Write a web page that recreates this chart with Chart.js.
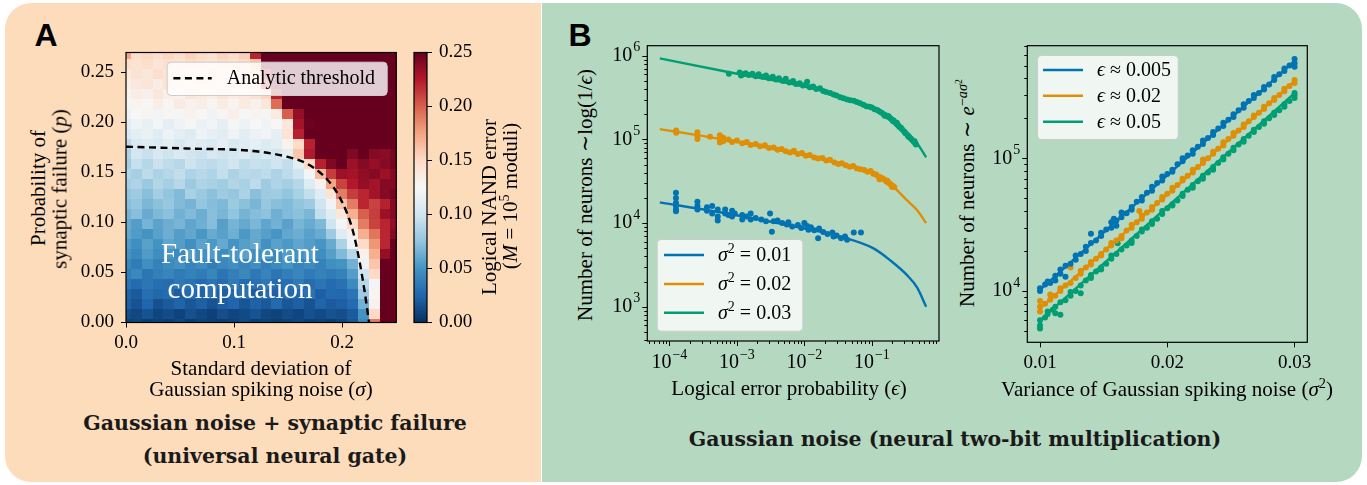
<!DOCTYPE html>
<html>
<head>
<meta charset="utf-8">
<title>Fault-tolerant neural computation</title>
<script src="https://cdn.jsdelivr.net/npm/chart.js@4.4.1/dist/chart.umd.min.js"></script>
<style>
  html, body { margin: 0; padding: 0; }
  body { width: 1367px; height: 485px; position: relative; overflow: hidden; background: #fff;
         font-family: "Liberation Serif", "DejaVu Serif", serif; color: #000; }
  .panel { position: absolute; top: 3px; height: 479px; }
  #panelA { left: 5px; width: 536px; background: #fddcbb; border-radius: 26px 0 0 26px; }
  #panelB { left: 542px; width: 820px; background: #b5d8c1; border-radius: 0 26px 26px 0; }
  canvas { position: absolute; }
  .t { position: absolute; white-space: nowrap; line-height: 1; font-size: 21px; transform: translate(-50%, -50%); }
  .t.rot { transform: translate(-50%, -50%) rotate(-90deg); }
  .tag { font-family: "Liberation Sans", Arial, sans-serif; font-weight: bold; font-size: 32px; }
  .ttl { font-family: "DejaVu Serif", serif; font-weight: bold; font-size: 20.5px; color: #1a1a1a; }
  .ft { color: #fff; font-size: 29px; }
  sup { font-size: 0.68em; vertical-align: 0.5em; line-height: 0; }
</style>
</head>
<body>
<div class="panel" id="panelA"></div>
<div class="panel" id="panelB"></div>

<canvas id="heat" width="345" height="330" style="left:60px;top:30px"></canvas>
<canvas id="cbar" width="95" height="330" style="left:405px;top:30px"></canvas>
<canvas id="byEps" width="350" height="360" style="left:600px;top:20px"></canvas>
<canvas id="byVar" width="345" height="360" style="left:980px;top:20px"></canvas>

<div class="t tag" style="left:46px;top:35px">A</div>
<div class="t tag" style="left:580px;top:35px">B</div>

<div class="t rot" style="left:38px;top:188px">Probability of</div>
<div class="t rot" style="left:60px;top:189px">synaptic failure (<i>p</i>)</div>
<div class="t" style="left:261px;top:368px">Standard deviation of</div>
<div class="t" style="left:261px;top:389px">Gaussian spiking noise (<i>σ</i>)</div>
<div class="t rot" style="left:489px;top:207px">Logical NAND error</div>
<div class="t rot" style="left:510px;top:196px">(<i>M</i> = 10<sup>5</sup> moduli)</div>
<div class="t ft" style="left:240px;top:253px">Fault-tolerant</div>
<div class="t ft" style="left:240px;top:288px">computation</div>
<div class="t ttl" style="left:275px;top:423px">Gaussian noise + synaptic failure</div>
<div class="t ttl" style="left:275px;top:456px">(universal neural gate)</div>

<div class="t rot" style="left:585px;top:195px">Number of neurons ∼log(1/<i>ϵ</i>)</div>
<div class="t" style="left:789px;top:388px">Logical error probability (<i>ϵ</i>)</div>
<div class="t rot" style="left:967px;top:193px">Number of neurons ∼ <i>e</i><sup>−<i>aσ</i><sup>2</sup></sup></div>
<div class="t" style="left:1167px;top:389px">Variance of Gaussian spiking noise (<i>σ</i><sup>2</sup>)</div>
<div class="t ttl" style="left:955px;top:439px">Gaussian noise (neural two-bit multiplication)</div>

<script>
// ---------- panel A : heat map ----------
// cell centres (imshow style, half cells cut by the axes)
const noiseSigma = [0.00,0.01,0.02,0.03,0.04,0.05,0.06,0.07,0.08,0.09,0.10,0.11,0.12,
                    0.13,0.14,0.15,0.16,0.17,0.18,0.19,0.20,0.21,0.22,0.23,0.24,0.25];
const failureP = [0.00,0.01,0.02,0.03,0.04,0.05,0.06,0.07,0.08,0.09,0.10,0.11,0.12,0.13,
                  0.14,0.15,0.16,0.17,0.18,0.19,0.20,0.21,0.22,0.23,0.24,0.25,0.26,0.27];
// logical NAND error x 1000, one row per failureP, one column per noiseSigma
const nandErrMilli = [
  [8,10,6,9,7,11,5,9,7,6,8,12,7,9,6,8,11,7,9,6,10,18,45,190,260,260],
  [14,11,16,10,13,9,15,11,8,14,10,12,16,11,9,13,10,15,12,16,14,20,50,150,260,260],
  [22,16,25,15,20,24,18,22,16,21,25,17,23,19,27,18,22,16,24,20,22,28,65,130,260,260],
  [24,20,30,26,28,21,27,24,30,22,26,31,21,27,23,28,25,32,22,27,26,32,80,128,260,260],
  [32,28,34,30,29,35,31,27,33,29,36,28,31,35,27,30,36,29,33,28,31,45,90,122,260,260],
  [38,44,34,39,42,36,40,37,43,33,39,44,35,41,34,38,43,36,40,37,40,55,100,150,260,260],
  [44,37,48,40,45,49,41,46,38,44,48,42,47,39,45,50,42,46,40,48,50,65,120,160,255,260],
  [50,44,54,47,51,45,56,49,54,46,52,57,48,53,45,55,50,54,47,56,70,90,130,170,235,260],
  [54,48,57,50,59,55,48,58,53,61,50,56,60,49,57,53,59,55,51,62,85,120,150,180,220,250],
  [60,54,50,57,63,55,60,52,62,57,64,53,61,56,51,60,63,57,62,80,110,132,170,192,220,240],
  [62,55,66,58,63,67,59,64,71,56,66,61,68,59,65,57,67,62,69,100,122,150,190,210,220,235],
  [66,72,62,69,73,65,70,63,72,67,75,66,71,74,64,70,73,68,95,110,140,170,200,212,232,240],
  [72,76,68,73,77,70,66,76,71,69,79,73,67,77,72,70,75,80,100,120,160,190,220,210,222,240],
  [76,80,72,82,75,70,84,78,73,80,76,85,72,79,81,75,84,95,110,142,190,212,220,230,240,245],
  [82,86,78,88,83,90,79,86,84,81,88,84,92,80,87,83,89,108,130,175,210,225,235,230,240,240],
  [88,83,92,85,89,94,86,90,87,95,85,91,89,93,86,92,100,122,165,212,232,230,236,240,232,240],
  [82,96,89,98,93,90,99,94,92,96,101,93,97,95,100,94,112,150,222,242,250,232,240,234,240,245],
  [86,102,97,104,99,106,101,98,105,100,103,107,99,104,101,112,160,225,250,252,250,242,250,240,238,245],
  [92,106,110,107,112,104,111,108,106,113,105,110,114,107,112,130,150,222,258,260,258,260,255,260,258,255],
  [106,112,116,110,118,113,108,119,114,111,120,112,117,121,114,142,222,260,260,260,260,260,260,260,260,260],
  [112,119,115,122,113,120,124,117,121,114,123,118,125,120,126,138,230,248,260,260,260,260,260,260,260,260],
  [118,125,129,121,127,123,130,126,120,128,132,124,129,127,136,200,235,260,260,260,260,260,260,260,260,260],
  [124,129,126,134,128,136,130,133,127,135,129,137,131,140,195,260,260,260,260,260,260,260,260,260,260,260],
  [129,135,132,139,133,130,140,136,134,141,135,138,142,152,222,260,260,260,260,260,260,260,260,260,260,260],
  [133,138,141,135,143,139,136,144,140,137,145,141,146,210,260,260,260,260,260,260,260,260,260,260,260,260],
  [137,143,139,146,141,145,142,138,147,143,140,148,155,222,260,260,260,260,260,260,260,260,260,260,260,260],
  [148,144,147,141,146,143,149,145,142,148,144,150,162,260,260,260,260,260,260,260,260,260,260,260,260,260],
  [175,148,151,146,152,147,154,150,145,153,149,155,220,260,260,260,260,260,260,260,260,260,260,260,260,260]
];
const thresholdSigma = [0.000, 0.056, 0.1175, 0.148, 0.167, 0.182, 0.1945, 0.2038, 0.210, 0.216, 0.2207, 0.2248];
const thresholdP     = [0.1758, 0.174, 0.1715, 0.166, 0.159, 0.1475, 0.131, 0.111, 0.091, 0.061, 0.031, 0.000];

const sigmaTicks = [0, 0.1, 0.2];
const sigmaTickLabels = ['0.0', '0.1', '0.2'];
const pTicks = [0, 0.05, 0.10, 0.15, 0.20, 0.25];
const pTickLabels = ['0.00', '0.05', '0.10', '0.15', '0.20', '0.25'];
const errTicks = [0, 0.05, 0.10, 0.15, 0.20, 0.25];
const errTickLabels = ['0.00', '0.05', '0.10', '0.15', '0.20', '0.25'];

// ---------- panel B left : neurons vs logical error ----------
const fitEps   = [7.2e-5, 7.1e-4, 9.7e-3, 3.4e-2, 0.106, 0.186, 0.33, 0.468, 0.638];
const fitN_001 = [1.77e4, 1.3e4, 8.65e3, 6.9e3, 4.98e3, 3.6e3, 2.4e3, 1.7e3, 1.0e3];
const fitN_002 = [1.33e5, 9.8e4, 6.45e4, 5.1e4, 3.9e4, 2.95e4, 1.88e4, 1.43e4, 1.0e4];
const fitN_003 = [9.3e5, 6.45e5, 4.3e5, 3.3e5, 2.35e5, 1.85e5, 1.17e5, 9.0e4, 6.1e4];

const errPts_001 = [[1.25e-4,2.3e4],[1.25e-4,2.0e4],[1.25e-4,1.75e4],[1.25e-4,1.6e4],[1.25e-4,1.45e4],[1.25e-4,1.38e4],
  [2.6e-4,1.8e4],[2.6e-4,1.6e4],[2.6e-4,1.45e4],[3.6e-4,1.55e4],[3.6e-4,1.4e4],[4.3e-4,1.6e4],[4.3e-4,1.3e4],
  [5.2e-4,1.45e4],[5.2e-4,1.2e4],[5.2e-4,1.07e4],[6.7e-4,1.45e4],[6.7e-4,1.3e4],[7.5e-4,1.25e4],[8.5e-4,1.4e4],
  [8.5e-4,1.2e4],[9.3e-4,1.3e4],[1.2e-3,1.25e4],[1.2e-3,1.1e4],[1.4e-3,1.2e4],[1.6e-3,1.3e4],[1.6e-3,1.1e4],
  [1.9e-3,1.15e4],[2.3e-3,1.1e4],[2.7e-3,1.05e4],[3.1e-3,1.3e4],[3.3e-3,7.9e3],[3.5e-3,1.05e4],[4.0e-3,1.07e4],
  [4.7e-3,1.0e4],[5.5e-3,9.6e3],[5.8e-3,1.02e4],[6.6e-3,9.1e3],[8.0e-3,9.5e3],[9.0e-3,8.7e3],[1.0e-2,1.0e4],
  [1.1e-2,9.2e3],[1.15e-2,8.3e3],[1.25e-2,8.9e3],[1.4e-2,8.2e3],[1.6e-2,6.6e3],[1.65e-2,8.6e3],[1.9e-2,7.8e3],
  [2.2e-2,7.4e3],[2.6e-2,7.7e3],[2.7e-2,6.9e3],[3.0e-2,7.1e3],[3.5e-2,6.6e3],[4.0e-2,6.9e3],[4.3e-2,6.3e3],
  [5.4e-2,7.7e3],[6.9e-2,7.7e3]];
const errPts_002 = [[1.26e-4,1.28e5],[1.26e-4,1.2e5],[2.6e-4,1.22e5],[2.6e-4,1.1e5],[2.6e-4,1.01e5],[4.0e-4,1.08e5],
  [5.6e-4,1.12e5],[5.6e-4,1.0e5],[5.6e-4,9.2e4],[6.3e-4,1.05e5],[6.3e-4,9.6e4],[7.5e-4,1.0e5],[8.5e-4,9.3e4],
  [1.0e-3,9.7e4],[1.2e-3,9.0e4],[1.4e-3,9.3e4],[1.6e-3,8.6e4],[1.9e-3,8.8e4],[2.2e-3,8.3e4],[2.6e-3,8.5e4],
  [3.0e-3,7.9e4],[3.5e-3,8.0e4],[4.0e-3,7.5e4],[4.6e-3,7.7e4],[5.3e-3,7.2e4],[6.1e-3,7.0e4],[7.0e-3,7.3e4],
  [8.0e-3,6.7e4],[9.2e-3,6.9e4],[1.05e-2,6.4e4],[1.2e-2,6.5e4],[1.4e-2,6.1e4],[1.6e-2,5.9e4],[1.85e-2,6.0e4],
  [2.1e-2,5.6e4],[2.4e-2,5.7e4],[2.8e-2,5.3e4],[3.2e-2,5.1e4],[3.6e-2,5.2e4],[4.1e-2,4.9e4],[4.7e-2,4.7e4],
  [5.3e-2,4.8e4],[6.0e-2,4.5e4],[6.8e-2,4.4e4],[7.7e-2,4.3e4],[8.6e-2,4.1e4],[9.6e-2,4.2e4],[0.105,3.9e4],
  [0.115,3.8e4],[0.125,3.6e4],[0.13,3.35e4],[0.135,3.5e4],[0.145,3.4e4],[0.155,3.3e4],[0.165,3.15e4],[0.17,3.2e4],
  [0.175,3.05e4],[0.185,2.95e4],[0.195,2.85e4],[0.2,2.7e4],[0.205,2.78e4],[0.215,2.7e4]];
const errPts_003 = [[7.6e-4,6.1e5],[1.1e-3,6.3e5],[1.15e-3,5.8e5],[1.25e-3,6.0e5],[1.35e-3,6.2e5],[1.5e-3,5.9e5],
  [1.7e-3,6.1e5],[1.9e-3,5.7e5],[2.1e-3,6.0e5],[2.4e-3,5.6e5],[2.7e-3,5.8e5],[3.0e-3,5.4e5],[3.4e-3,5.6e5],
  [3.8e-3,5.2e5],[4.2e-3,5.4e5],[4.8e-3,5.0e5],[5.3e-3,5.3e5],[6.0e-3,4.8e5],[6.8e-3,5.0e5],[7.5e-3,4.6e5],
  [8.5e-3,4.7e5],[9.5e-3,4.4e5],[1.05e-2,4.5e5],[1.1e-2,4.9e5],[1.2e-2,4.2e5],[1.35e-2,4.3e5],[1.5e-2,4.0e5],
  [1.7e-2,4.1e5],[1.9e-2,3.8e5],[2.1e-2,3.7e5],[2.4e-2,3.6e5],[2.7e-2,3.45e5],[3.0e-2,3.35e5],[3.4e-2,3.2e5],
  [3.8e-2,3.1e5],[4.3e-2,3.0e5],[4.8e-2,2.95e5],[5.4e-2,2.9e5],[6.0e-2,2.8e5],[6.7e-2,2.7e5],[7.5e-2,2.6e5],
  [8.3e-2,2.5e5],[9.2e-2,2.45e5],[0.1,2.4e5],[0.11,2.3e5],[0.12,2.25e5],[0.13,2.15e5],[0.14,2.08e5],[0.15,2.0e5],
  [0.155,1.92e5],[0.16,1.95e5],[0.17,1.88e5],[0.175,1.9e5],[0.18,1.85e5],[0.19,1.78e5],[0.2,1.72e5],[0.205,1.66e5],
  [0.21,1.68e5],[0.22,1.6e5],[0.23,1.55e5],[0.235,1.58e5],[0.24,1.5e5],[0.25,1.45e5],[0.26,1.4e5],[0.27,1.38e5],
  [0.28,1.32e5],[0.3,1.25e5],[0.31,1.2e5],[0.32,1.18e5],[0.34,1.12e5],[0.35,1.08e5],[0.36,1.07e5],[0.38,1.02e5],
  [0.4,9.8e4],[0.42,9.4e4],[0.43,9.5e4],[0.44,9.0e4],[0.45,8.7e4]];

const epsMajor = [1e-4, 1e-3, 1e-2, 1e-1];
const neuronMajorL = [1e3, 1e4, 1e5, 1e6];
const sigma2Legend = ['0.01', '0.02', '0.03'];

// ---------- panel B right : neurons vs noise variance ----------
const fitVar = [0.01, 0.03];
const fitN_005 = [1.02e4, 5.43e5];
const fitN_02  = [7.4e3, 3.84e5];
const fitN_05  = [6.0e3, 3.1e5];

const varPts_005 = [[0.0100,1.0e4],[0.0100,1.05e4],[0.0104,1.12e4],[0.0106,1.18e4],[0.0108,1.15e4],[0.0112,1.3e4],
  [0.0112,1.2e4],[0.0116,1.45e4],[0.0116,1.35e4],[0.0120,1.28e4],[0.0120,1.55e4],[0.0124,1.6e4],[0.0128,1.85e4],
  [0.0128,1.72e4],[0.0132,1.9e4],[0.0136,2.0e4],[0.0136,2.15e4],[0.0140,2.7e4],[0.0140,2.3e4],[0.0144,2.4e4],
  [0.0148,2.6e4],[0.0148,2.75e4],[0.0152,2.9e4],[0.0156,3.0e4],[0.0156,3.3e4],[0.0158,3.5e4],[0.0160,3.4e4],
  [0.0160,3.1e4],[0.0164,3.9e4],[0.0164,3.6e4],[0.0168,3.85e4],[0.0172,4.3e4],[0.0172,4.1e4],[0.0176,4.7e4],
  [0.0180,5.1e4],[0.0180,4.8e4],[0.0184,5.5e4],[0.0188,5.7e4],[0.0188,6.1e4],[0.0192,6.5e4],[0.0196,6.8e4],
  [0.0196,7.3e4],[0.0200,7.6e4],[0.0204,8.2e4],[0.0204,7.9e4],[0.0208,9.0e4],[0.0212,9.5e4],[0.0212,1.0e5],
  [0.0216,1.05e5],[0.0220,1.08e5],[0.0220,1.15e5],[0.0224,1.22e5],[0.0228,1.28e5],[0.0228,1.36e5],[0.0232,1.42e5],
  [0.0236,1.5e5],[0.0236,1.58e5],[0.0240,1.68e5],[0.0244,1.75e5],[0.0244,1.85e5],[0.0248,1.95e5],[0.0252,2.05e5],
  [0.0252,2.15e5],[0.0256,2.3e5],[0.0260,2.4e5],[0.0260,2.55e5],[0.0264,2.7e5],[0.0268,2.85e5],[0.0268,3.0e5],
  [0.0272,3.1e5],[0.0276,3.3e5],[0.0276,3.45e5],[0.0280,3.6e5],[0.0284,3.9e5],[0.0284,4.1e5],[0.0288,4.3e5],
  [0.0292,4.55e5],[0.0292,4.75e5],[0.0296,5.0e5],[0.0300,5.2e5],[0.0300,5.6e5],[0.0300,4.9e5]];
const varPts_02 = [[0.0100,7.0e3],[0.0100,7.6e3],[0.0100,8.4e3],[0.0104,8.0e3],[0.0108,8.6e3],[0.0108,9.4e3],
  [0.0112,9.2e3],[0.0116,1.0e4],[0.0116,1.05e4],[0.0120,1.1e4],[0.0124,1.5e4],[0.0124,1.15e4],[0.0128,1.25e4],
  [0.0132,1.35e4],[0.0132,1.42e4],[0.0136,1.5e4],[0.0140,1.65e4],[0.0140,1.58e4],[0.0144,1.75e4],[0.0148,1.9e4],
  [0.0148,1.85e4],[0.0152,2.05e4],[0.0156,2.2e4],[0.0156,2.3e4],[0.0160,2.4e4],[0.0164,2.6e4],[0.0164,2.5e4],
  [0.0168,2.85e4],[0.0172,3.0e4],[0.0172,3.15e4],[0.0176,3.3e4],[0.0178,4.0e4],[0.0180,3.5e4],[0.0180,3.7e4],
  [0.0184,3.9e4],[0.0188,4.1e4],[0.0188,4.3e4],[0.0192,4.6e4],[0.0196,4.9e4],[0.0196,5.1e4],[0.0200,5.4e4],
  [0.0204,5.7e4],[0.0204,6.0e4],[0.0208,6.3e4],[0.0212,6.8e4],[0.0212,7.0e4],[0.0216,7.4e4],[0.0220,7.8e4],
  [0.0220,8.2e4],[0.0224,8.6e4],[0.0228,9.2e4],[0.0228,9.8e4],[0.0232,1.0e5],[0.0236,1.08e5],[0.0236,1.12e5],
  [0.0240,1.18e5],[0.0244,1.25e5],[0.0244,1.32e5],[0.0248,1.4e5],[0.0252,1.48e5],[0.0252,1.55e5],[0.0256,1.62e5],
  [0.0260,1.72e5],[0.0260,1.8e5],[0.0264,1.9e5],[0.0268,2.05e5],[0.0268,2.1e5],[0.0272,2.2e5],[0.0276,2.35e5],
  [0.0276,2.45e5],[0.0280,2.6e5],[0.0284,2.75e5],[0.0284,2.85e5],[0.0288,3.0e5],[0.0292,3.2e5],[0.0292,3.35e5],
  [0.0296,3.5e5],[0.0300,3.7e5],[0.0300,3.9e5]];
const varPts_05 = [[0.0100,5.2e3],[0.0100,5.5e3],[0.0100,6.0e3],[0.0104,6.3e3],[0.0106,7.0e3],[0.0106,6.7e3],
  [0.0110,7.2e3],[0.0112,6.8e3],[0.0112,7.6e3],[0.0116,6.6e3],[0.0116,8.2e3],[0.0120,8.5e3],[0.0124,9.2e3],
  [0.0124,9.8e3],[0.0128,1.0e4],[0.0132,9.6e3],[0.0132,1.1e4],[0.0136,1.2e4],[0.0140,1.25e4],[0.0140,1.32e4],
  [0.0144,1.4e4],[0.0148,1.5e4],[0.0148,1.45e4],[0.0152,1.6e4],[0.0156,1.75e4],[0.0156,1.85e4],[0.0160,1.9e4],
  [0.0161,2.29e4],[0.0164,2.05e4],[0.0168,2.2e4],[0.0172,2.4e4],[0.0172,2.3e4],[0.0176,2.6e4],[0.0180,2.8e4],
  [0.0180,2.9e4],[0.0184,3.0e4],[0.0188,3.2e4],[0.0188,3.35e4],[0.0192,3.5e4],[0.0196,3.8e4],[0.0196,4.0e4],
  [0.0200,4.2e4],[0.0204,4.5e4],[0.0204,4.4e4],[0.0208,4.8e4],[0.0212,5.2e4],[0.0212,5.4e4],[0.0216,5.8e4],
  [0.0220,6.0e4],[0.0220,6.3e4],[0.0224,6.7e4],[0.0228,7.0e4],[0.0228,7.4e4],[0.0232,7.8e4],[0.0236,8.2e4],
  [0.0236,8.6e4],[0.0240,9.2e4],[0.0244,9.8e4],[0.0244,1.02e5],[0.0248,1.08e5],[0.0252,1.15e5],[0.0252,1.2e5],
  [0.0256,1.27e5],[0.0260,1.33e5],[0.0260,1.4e5],[0.0264,1.48e5],[0.0268,1.58e5],[0.0268,1.64e5],[0.0272,1.72e5],
  [0.0276,1.82e5],[0.0276,1.9e5],[0.0280,2.0e5],[0.0284,2.12e5],[0.0284,2.2e5],[0.0288,2.3e5],[0.0292,2.45e5],
  [0.0292,2.55e5],[0.0296,2.7e5],[0.0300,2.85e5],[0.0300,3.0e5],[0.0300,3.1e5]];

const varTicks = [0.01, 0.02, 0.03];
const varTickLabels = ['0.01', '0.02', '0.03'];
const neuronMajorR = [1e4, 1e5];
const epsLegend = ['0.005', '0.02', '0.05'];

// ---------- styling ----------
const BLUE = '#0173b2', ORANGE = '#de8f05', GREEN = '#029e73';
const SERIF = '"Liberation Serif", "DejaVu Serif", serif';
const tickFont = { family: SERIF, size: 19 };
Chart.defaults.font.family = SERIF;
Chart.defaults.color = '#000';

// matplotlib RdBu_r
const rdbuStops = ['#053061', '#2166ac', '#4393c3', '#92c5de', '#d1e5f0', '#f7f7f7',
                   '#fddbc7', '#f4a582', '#d6604d', '#b2182b', '#67001f'];
function hexRgb(h) { return [1, 3, 5].map(i => parseInt(h.substr(i, 2), 16)); }
function rdbu(t) {
  t = Math.min(1, Math.max(0, t)) * 10;
  const i = Math.min(9, Math.floor(t)), f = t - i;
  const a = hexRgb(rdbuStops[i]), b = hexRgb(rdbuStops[i + 1]);
  return 'rgb(' + a.map((c, k) => Math.round(c + (b[k] - c) * f)).join(',') + ')';
}

function drawRich(ctx, parts, x, y) {
  let cx = x;
  ctx.textBaseline = 'alphabetic';
  ctx.textAlign = 'left';
  parts.forEach(p => {
    ctx.font = (p.i ? 'italic ' : '') + (p.s || 20) + 'px ' + SERIF;
    ctx.fillText(p.t, cx, y - (p.up || 0));
    cx += ctx.measureText(p.t).width;
  });
}

function drawPow(ctx, v, x, y, mode) {
  const e = Math.round(Math.log10(v));
  const sup = e < 0 ? '\u2212' + (-e) : String(e);
  ctx.font = '20px ' + SERIF;
  const wb = ctx.measureText('10').width;
  ctx.font = '14px ' + SERIF;
  const ws = ctx.measureText(sup).width;
  const w = wb + ws + 1;
  const x0 = mode === 'left' ? x - w : x - w / 2;
  ctx.fillStyle = '#000';
  ctx.textAlign = 'left';
  ctx.textBaseline = 'middle';
  ctx.font = '20px ' + SERIF;
  ctx.fillText('10', x0, y);
  ctx.font = '14px ' + SERIF;
  ctx.fillText(sup, x0 + wb + 1, y - 8);
}

function linAxis(pos, ticks, labels, extra, pad) {
  return Object.assign({
    type: 'linear', position: pos,
    afterBuildTicks: s => { s.ticks = ticks.map(v => ({ value: v })); },
    ticks: { callback: (v, i) => labels[i], font: tickFont, color: '#000', padding: pad || 5, maxRotation: 0, autoSkip: false },
    grid: { display: true, drawOnChartArea: false, drawTicks: true, tickLength: 5, color: '#000', lineWidth: 1 },
    border: { display: false }
  }, extra);
}

function logAxis(pos, min, max, size) {
  return {
    type: 'logarithmic', position: pos, min: min, max: max,
    ticks: { display: false }, grid: { display: false }, border: { display: false },
    afterFit: s => { if (s.isHorizontal()) s.height = size; else s.width = size; }
  };
}

// box around the axes
const frame = {
  id: 'frame',
  afterDraw(chart) {
    const { ctx, chartArea: a } = chart;
    ctx.save();
    ctx.strokeStyle = '#000';
    ctx.lineWidth = 1.2;
    ctx.strokeRect(a.left, a.top, a.right - a.left, a.bottom - a.top);
    ctx.restore();
  }
};

// log ticks (major + minor) and 10^n labels
const logDeco = {
  id: 'logDeco',
  afterDraw(chart, args, o) {
    const { ctx, chartArea: a } = chart;
    ctx.save();
    ctx.strokeStyle = '#000';
    ctx.lineWidth = 1;
    (o.axes || []).forEach(ax => {
      const s = chart.scales[ax.id];
      const e0 = Math.floor(Math.log10(s.min)), e1 = Math.ceil(Math.log10(s.max));
      for (let e = e0; e <= e1; e++) {
        for (let m = 1; m < 10; m++) {
          const v = m * Math.pow(10, e);
          if (v < s.min || v > s.max) continue;
          const p = Math.round(s.getPixelForValue(v)) + 0.5;
          const len = m === 1 ? 5 : 3;
          ctx.beginPath();
          if (s.isHorizontal()) { ctx.moveTo(p, a.bottom); ctx.lineTo(p, a.bottom + len); }
          else { ctx.moveTo(a.left, p); ctx.lineTo(a.left - len, p); }
          ctx.stroke();
        }
      }
      ax.majors.forEach(v => {
        const p = s.getPixelForValue(v);
        if (s.isHorizontal()) drawPow(ctx, v, p, a.bottom + 22, 'center');
        else drawPow(ctx, v, a.left - 7, p, 'left');
      });
    });
    ctx.restore();
  }
};

const boxLegend = {
  id: 'boxLegend',
  afterDatasetsDraw(chart, args, o) {
    if (!o.items) return;
    const { ctx, chartArea: a } = chart;
    const x = a.left + o.dx, y = a.top + o.dy;
    ctx.save();
    ctx.beginPath();
    ctx.roundRect(x + 0.5, y + 0.5, o.w, o.h, 4);
    ctx.fillStyle = 'rgba(255,255,255,0.8)';
    ctx.fill();
    ctx.strokeStyle = '#cccccc';
    ctx.lineWidth = 1;
    ctx.stroke();
    o.items.forEach((it, i) => {
      const ry = y + o.rows[i];
      ctx.beginPath();
      ctx.setLineDash(it.dash || []);
      ctx.strokeStyle = it.color;
      ctx.lineWidth = it.width || 2;
      ctx.moveTo(x + o.lineX[0], ry);
      ctx.lineTo(x + o.lineX[1], ry);
      ctx.stroke();
      ctx.setLineDash([]);
      ctx.fillStyle = '#000';
      drawRich(ctx, it.text, x + o.textX, ry + 6);
    });
    ctx.restore();
  }
};

const heatCells = {
  id: 'heatCells',
  beforeDatasetsDraw(chart) {
    const { ctx, chartArea: a, scales: { x, y } } = chart;
    ctx.save();
    ctx.beginPath();
    ctx.rect(a.left, a.top, a.right - a.left, a.bottom - a.top);
    ctx.clip();
    nandErrMilli.forEach((row, i) => {
      row.forEach((v, j) => {
        const x0 = x.getPixelForValue(noiseSigma[j] - 0.005), x1 = x.getPixelForValue(noiseSigma[j] + 0.005);
        const y0 = y.getPixelForValue(failureP[i] - 0.005), y1 = y.getPixelForValue(failureP[i] + 0.005);
        ctx.fillStyle = rdbu(v / 1000 / 0.25);
        ctx.fillRect(Math.floor(x0), Math.floor(y1), Math.ceil(x1) - Math.floor(x0) + 1, Math.ceil(y0) - Math.floor(y1) + 1);
      });
    });
    ctx.restore();
  }
};

const colorBar = {
  id: 'colorBar',
  beforeDraw(chart) {
    const { ctx, chartArea: a, scales: { y } } = chart;
    const g = ctx.createLinearGradient(0, y.getPixelForValue(0), 0, y.getPixelForValue(0.25));
    rdbuStops.forEach((c, i) => g.addColorStop(i / 10, c));
    ctx.save();
    ctx.fillStyle = g;
    ctx.fillRect(a.left, y.getPixelForValue(0.25), a.right - a.left, y.getPixelForValue(0) - y.getPixelForValue(0.25));
    ctx.restore();
  }
};

const common = {
  responsive: false, animation: false, devicePixelRatio: 1, events: [],
  plugins: { legend: { display: false }, tooltip: { enabled: false } }
};

function pts(arr) { return arr.map(p => ({ x: p[0], y: p[1] })); }
function zipPts(xs, ys) { return xs.map((x, i) => ({ x: x, y: ys[i] })); }
function scatterSet(data, color) {
  return { data: pts(data), showLine: false, pointRadius: 3, pointBorderWidth: 0,
           pointBackgroundColor: color, backgroundColor: color, borderColor: color, order: 0 };
}
function fitSet(data, color) {
  return { data: data, showLine: true, pointRadius: 0, borderWidth: 2.4, borderColor: color,
           fill: false, cubicInterpolationMode: 'monotone', order: 1 };
}

// ---- heat map chart ----
new Chart(document.getElementById('heat'), {
  type: 'scatter',
  data: { datasets: [{
    data: zipPts(thresholdSigma, thresholdP), showLine: true, pointRadius: 0,
    borderColor: '#000', borderWidth: 2.4, borderDash: [7, 4.5], cubicInterpolationMode: 'monotone'
  }] },
  options: Object.assign({}, common, {
    layout: { padding: { left: 0, top: 22.5, right: 8.7, bottom: 0 } },
    scales: {
      x: linAxis('bottom', sigmaTicks, sigmaTickLabels, { min: 0, max: 0.25, afterFit: s => { s.height = 37.5; } }, 4),
      y: linAxis('left', pTicks, pTickLabels, { min: 0, max: 0.27, afterFit: s => { s.width = 66; } }, 7)
    },
    plugins: Object.assign({}, common.plugins, {
      boxLegend: { dx: 40.7, dy: 9.2, w: 220, h: 33.3, rows: [16.6], lineX: [6.7, 45], textX: 60,
        items: [{ color: '#000', dash: [7, 4.5], width: 2.4, text: [{ t: 'Analytic threshold' }] }] }
    })
  }),
  plugins: [heatCells, boxLegend, frame]
});

// ---- colour bar ----
new Chart(document.getElementById('cbar'), {
  type: 'scatter',
  data: { datasets: [] },
  options: Object.assign({}, common, {
    layout: { padding: { left: 9, top: 22.5, right: 0, bottom: 37.5 } },
    scales: {
      x: { display: false, min: 0, max: 1 },
      y: linAxis('right', errTicks, errTickLabels, { min: 0, max: 0.25, afterFit: s => { s.width = 73; } }, 7)
    }
  }),
  plugins: [colorBar, frame]
});

// ---- neurons vs logical error ----
new Chart(document.getElementById('byEps'), {
  type: 'scatter',
  data: { datasets: [
    scatterSet(errPts_001, BLUE), scatterSet(errPts_002, ORANGE), scatterSet(errPts_003, GREEN),
    fitSet(zipPts(fitEps, fitN_001), BLUE), fitSet(zipPts(fitEps, fitN_002), ORANGE), fitSet(zipPts(fitEps, fitN_003), GREEN)
  ] },
  options: Object.assign({}, common, {
    layout: { padding: { left: 0, top: 25.7, right: 11, bottom: 0 } },
    scales: {
      x: logAxis('bottom', 4.7e-5, 0.99, 39),
      y: logAxis('left', 389, 1.32e6, 47.3)
    },
    plugins: Object.assign({}, common.plugins, {
      logDeco: { axes: [{ id: 'x', majors: epsMajor }, { id: 'y', majors: neuronMajorL }] },
      boxLegend: { dx: 9.4, dy: 193.3, w: 145.6, h: 91.7, rows: [16, 45, 73.7], lineX: [7.3, 47.3], textX: 61.3,
        items: [BLUE, ORANGE, GREEN].map((c, i) => ({ color: c, width: 2.4,
          text: [{ t: 'σ', i: true }, { t: '2', s: 14, up: 8 }, { t: ' = ' + sigma2Legend[i] }] })) }
    })
  }),
  plugins: [boxLegend, logDeco, frame]
});

// ---- neurons vs variance ----
new Chart(document.getElementById('byVar'), {
  type: 'scatter',
  data: { datasets: [
    scatterSet(varPts_005, BLUE), scatterSet(varPts_02, ORANGE), scatterSet(varPts_05, GREEN),
    fitSet(zipPts(fitVar, fitN_005), BLUE), fitSet(zipPts(fitVar, fitN_02), ORANGE), fitSet(zipPts(fitVar, fitN_05), GREEN)
  ] },
  options: Object.assign({}, common, {
    layout: { padding: { left: 0, top: 25.7, right: 17.7, bottom: 0 } },
    scales: {
      x: linAxis('bottom', varTicks, varTickLabels, { min: 0.009, max: 0.031, afterFit: s => { s.height = 37.7; } }, 4),
      y: logAxis('left', 4100, 7.06e5, 47.3)
    },
    plugins: Object.assign({}, common.plugins, {
      logDeco: { axes: [{ id: 'y', majors: neuronMajorR }] },
      boxLegend: { dx: 9.7, dy: 9.3, w: 140.7, h: 84, rows: [15, 40.7, 66.7], lineX: [6, 46], textX: 60,
        items: [BLUE, ORANGE, GREEN].map((c, i) => ({ color: c, width: 2.4,
          text: [{ t: 'ϵ', i: true }, { t: ' ≈ ' + epsLegend[i] }] })) }
    })
  }),
  plugins: [boxLegend, logDeco, frame]
});
</script>
</body>
</html>
